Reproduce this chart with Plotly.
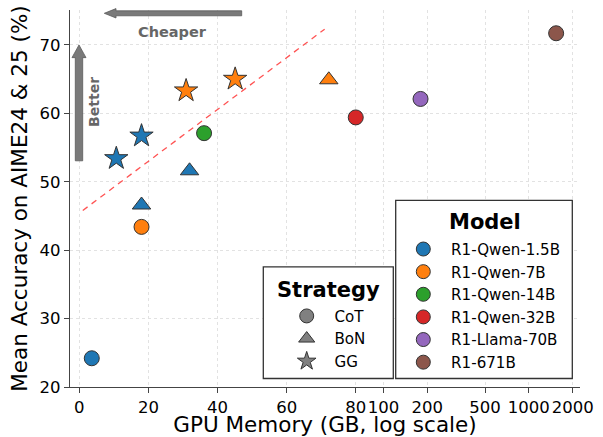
import math
import plotly.graph_objects as go

# ---------------- data ----------------
models = ["R1-Qwen-1.5B", "R1-Qwen-7B", "R1-Qwen-14B", "R1-Qwen-32B", "R1-Llama-70B", "R1-671B"]
model_colors = ["#1f77b4", "#ff7f0e", "#2ca02c", "#d62728", "#9467bd", "#8c564b"]
strategies = ["CoT", "BoN", "GG"]
strategy_symbols = ["circle", "triangle-up", "star"]

# points: (model, strategy, memory GB, accuracy %)
pt_model = ["R1-Qwen-1.5B", "R1-Qwen-1.5B", "R1-Qwen-1.5B", "R1-Qwen-1.5B", "R1-Qwen-1.5B",
            "R1-Qwen-7B", "R1-Qwen-7B", "R1-Qwen-7B", "R1-Qwen-7B",
            "R1-Qwen-14B", "R1-Qwen-32B", "R1-Llama-70B", "R1-671B"]
pt_strategy = ["CoT", "BoN", "BoN", "GG", "GG",
               "CoT", "BoN", "GG", "GG",
               "CoT", "CoT", "CoT", "CoT"]
pt_memory = [3.6, 18.0, 31.9, 10.7, 18.0,
             18.0, 72.2, 30.9, 45.1,
             36.1, 80.0, 180.0, 1540.0]
pt_accuracy = [24.2, 46.6, 51.6, 53.4, 56.7,
               43.4, 64.9, 63.3, 65.0,
               57.1, 59.4, 62.1, 71.7]

trend_memory = [1.0, 71.0]
trend_accuracy = [45.8, 72.3]

x_tick_values = [0, 20, 40, 60, 80, 100, 200, 500, 1000, 2000]
x_tick_labels = ["0", "20", "40", "60", "80", "100", "200", "500", "1000", "2000"]
y_tick_values = [20, 30, 40, 50, 60, 70]

# ---------------- custom x scale (linear up to 80, then log) ----------------
T100 = 88.0
DECADE = 42.1


def xform(gb):
    if gb <= 80:
        return gb
    if gb <= 100:
        return 80 + (gb - 80) * (T100 - 80) / 20.0
    return T100 + DECADE * math.log10(gb / 100.0)


fig = go.Figure()

# trend line
fig.add_trace(go.Scatter(
    x=[xform(v) for v in trend_memory], y=trend_accuracy, mode="lines",
    line=dict(color="rgba(255,40,40,0.8)", width=1.3, dash="6px,5px"),
    showlegend=False, hoverinfo="skip"))

sizes = {"circle": 15, "triangle-up": 16, "star": 17.5}
for m, c in zip(models, model_colors):
    for s, sym in zip(strategies, strategy_symbols):
        xs = [xform(pt_memory[i]) for i in range(len(pt_model)) if pt_model[i] == m and pt_strategy[i] == s]
        ys = [pt_accuracy[i] for i in range(len(pt_model)) if pt_model[i] == m and pt_strategy[i] == s]
        if not xs:
            continue
        fig.add_trace(go.Scatter(
            x=xs, y=ys, mode="markers",
            marker=dict(color=c, symbol=sym, size=sizes[sym], line=dict(color="#333333", width=1)),
            showlegend=False))

GAP = "\u00a0\u2009"  # small visual gap between legend symbol and label

# legend entries: strategy
for s, sym in zip(strategies, strategy_symbols):
    fig.add_trace(go.Scatter(
        x=[None], y=[None], mode="markers", name=GAP + s, legend="legend",
        marker=dict(color="#808080", symbol=sym, size=14, line=dict(color="#333333", width=1))))
# legend entries: model
for m, c in zip(models, model_colors):
    fig.add_trace(go.Scatter(
        x=[None], y=[None], mode="markers", name=GAP + m, legend="legend2",
        marker=dict(color=c, symbol="circle", size=14, line=dict(color="#333333", width=1))))

# ---------------- layout ----------------
L, R, T, B = 70, 23, 10, 49.5
W, H = 603, 437
PW, PH = W - L - R, H - T - B


def px(x):
    return (x - L) / PW


def py(y):
    return (H - B - y) / PH


def poly(points):
    return "M " + " L ".join(f"{px(a):.5f},{py(b):.5f}" for a, b in points) + " Z"


cheaper_arrow = poly([(104.3, 13.3), (116.0, 8.6), (116.0, 10.8), (241.7, 10.8),
                      (241.7, 15.8), (116.0, 15.8), (116.0, 18.0)])
better_arrow = poly([(79.0, 45.0), (86.0, 57.7), (82.7, 57.7), (82.7, 161.0),
                     (75.3, 161.0), (75.3, 57.7), (72.0, 57.7)])

box_style = dict(type="rect", xref="paper", yref="paper", fillcolor="white",
                 line=dict(color="#333333", width=1.3), layer="above")

fig.update_layout(
    width=W, height=H,
    margin=dict(l=L, r=R, t=T, b=B, autoexpand=False),
    plot_bgcolor="white", paper_bgcolor="white",
    font=dict(family="DejaVu Sans", color="black", size=15),
    xaxis=dict(
        range=[-2.7, 144.9], tickmode="array",
        tickvals=[xform(v) for v in x_tick_values], ticktext=x_tick_labels,
        tickangle=0, tickfont=dict(size=16.5),
        showline=True, linecolor="#444", linewidth=1.3, mirror=False,
        ticks="outside", ticklen=5, tickcolor="#444",
        showgrid=True, gridcolor="#e2e2e2", griddash="dot", gridwidth=1,
        zeroline=False, automargin=False,
        title=dict(text="GPU Memory (GB, log scale)", font=dict(size=21.5), standoff=3),
    ),
    yaxis=dict(
        range=[20, 75.1], tickmode="array", tickvals=y_tick_values,
        tickfont=dict(size=16.5),
        showline=True, linecolor="#444", linewidth=1.3, mirror=False,
        ticks="outside", ticklen=5, tickcolor="#444",
        showgrid=True, gridcolor="#e2e2e2", griddash="dot", gridwidth=1,
        zeroline=False, automargin=False,
        title=dict(text="Mean Accuracy on AIME24 & 25 (%)", font=dict(size=21.5), standoff=6),
    ),
    legend=dict(
        x=px(263.3), y=py(300), xanchor="left", yanchor="top",
        bgcolor="rgba(0,0,0,0)", borderwidth=0,
        font=dict(size=15.1), indentation=23.4, itemsizing="trace",
    ),
    legend2=dict(
        x=px(395.7), y=py(233), xanchor="left", yanchor="top",
        bgcolor="rgba(0,0,0,0)", borderwidth=0,
        font=dict(size=15.1), indentation=7.6, itemsizing="trace",
    ),
    shapes=[
        dict(type="path", xref="paper", yref="paper", path=cheaper_arrow,
             fillcolor="#7a7a7a", line=dict(color="#5a5a5a", width=0.8), layer="above"),
        dict(type="path", xref="paper", yref="paper", path=better_arrow,
             fillcolor="#7a7a7a", line=dict(color="#5a5a5a", width=0.8), layer="above"),
        dict(x0=px(263.3), x1=px(393.3), y0=py(379), y1=py(267.3), **box_style),
        dict(x0=px(395.7), x1=px(572.3), y0=py(379), y1=py(200.7), **box_style),
    ],
    annotations=[
        dict(text="<b>Cheaper</b>", xref="paper", yref="paper", x=px(172.3), y=py(31.7),
             showarrow=False, font=dict(size=14.5, color="#666666"), xanchor="center", yanchor="middle"),
        dict(text="<b>Better</b>", xref="paper", yref="paper", x=px(93.3), y=py(101.7),
             showarrow=False, font=dict(size=14, color="#666666"), textangle=-90,
             xanchor="center", yanchor="middle"),
        dict(text="<b>Strategy</b>", xref="paper", yref="paper", x=px(328.3), y=py(290),
             showarrow=False, font=dict(size=21), xanchor="center", yanchor="middle"),
        dict(text="<b>Model</b>", xref="paper", yref="paper", x=px(485), y=py(222),
             showarrow=False, font=dict(size=21), xanchor="center", yanchor="middle"),
    ],
)

fig.write_html("out.html", config={"displayModeBar": False},
               post_script="document.body.style.margin='0';")
